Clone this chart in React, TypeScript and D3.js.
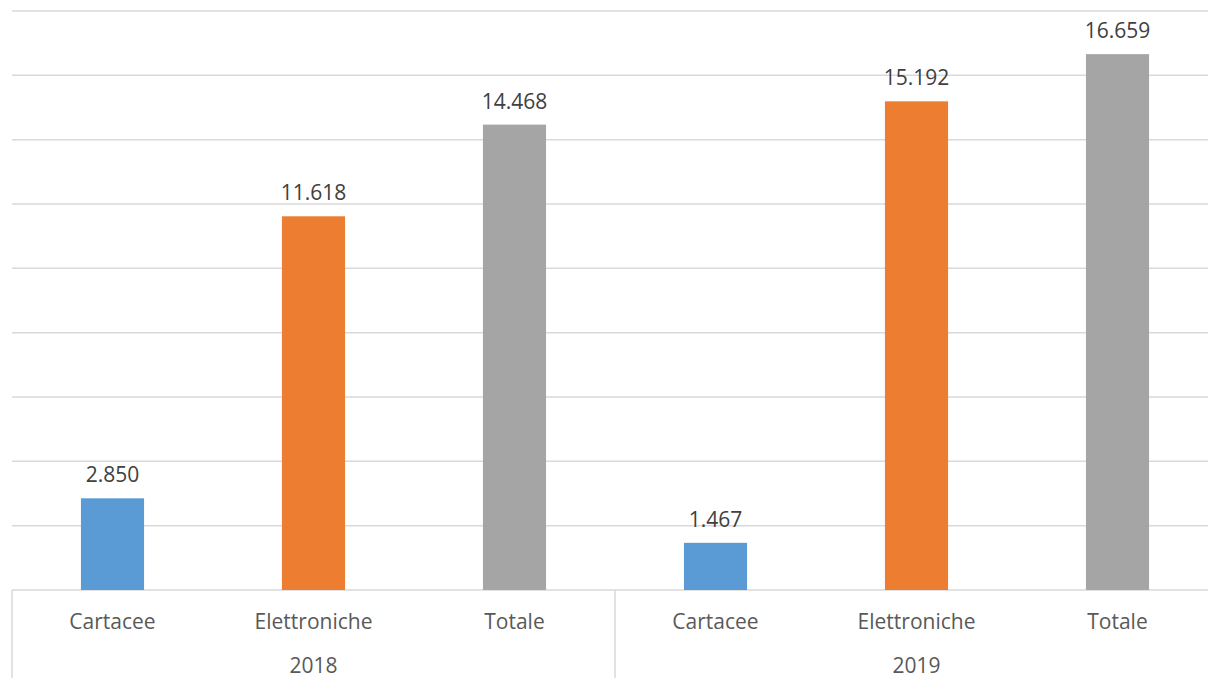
import React from "react";
import * as d3 from "d3";

const years = ["2018", "2019"];
const categories = ["Cartacee", "Elettroniche", "Totale"];
const values2018 = [2850, 11618, 14468];
const values2019 = [1467, 15192, 16659];
const colors = ["#5B9BD5", "#ED7D31", "#A5A5A5"];
const yTicks = [0, 2000, 4000, 6000, 8000, 10000, 12000, 14000, 16000, 18000];

const W = 1208;
const H = 678;
const left = 12;
const band = 201;
const baseline = 590;
const top = 11;

const fmt = (v: number) => d3.format(",")(v).replace(/,/g, ".");

export default function App() {
  const rows = years.flatMap((yr, yi) =>
    categories.map((c, ci) => ({
      key: `${yr}-${c}`,
      year: yr,
      cat: c,
      ci,
      value: (yi === 0 ? values2018 : values2019)[ci],
    }))
  );
  const x = d3
    .scaleBand<string>()
    .domain(rows.map((r) => r.key))
    .range([left, left + band * rows.length])
    .paddingInner(0.686)
    .paddingOuter(0.343);
  const y = d3.scaleLinear().domain([0, 18000]).range([baseline, top]);
  const font = "'Open Sans', sans-serif";
  const fs = 21;

  return (
    <svg
      width={W}
      height={H}
      style={{ position: "absolute", left: 0, top: 0, background: "#fff" }}
      fontFamily={font}
    >
      {yTicks.map((t) => (
        <line
          key={t}
          x1={left}
          x2={W}
          y1={y(t)}
          y2={y(t)}
          stroke="#D9D9D9"
          strokeWidth={1.5}
        />
      ))}
      {rows.map((r) => (
        <g key={r.key}>
          <rect
            x={x(r.key)}
            y={y(r.value)}
            width={x.bandwidth()}
            height={baseline - y(r.value)}
            fill={colors[r.ci]}
          />
          <text
            x={(x(r.key) as number) + x.bandwidth() / 2}
            y={y(r.value) - 16}
            textAnchor="middle"
            fontSize={fs}
            fill="#404040"
          >
            {fmt(r.value)}
          </text>
          <text
            x={(x(r.key) as number) + x.bandwidth() / 2}
            y={629}
            textAnchor="middle"
            fontSize={fs}
            fill="#595959"
          >
            {r.cat}
          </text>
        </g>
      ))}
      {[0, 1, 2].map((i) => (
        <line
          key={i}
          x1={left + i * band * 3}
          x2={left + i * band * 3}
          y1={baseline}
          y2={H}
          stroke="#D9D9D9"
          strokeWidth={1.5}
        />
      ))}
      {years.map((yr, i) => (
        <text
          key={yr}
          x={left + band * 1.5 + i * band * 3}
          y={673}
          textAnchor="middle"
          fontSize={fs}
          fill="#595959"
        >
          {yr}
        </text>
      ))}
    </svg>
  );
}
